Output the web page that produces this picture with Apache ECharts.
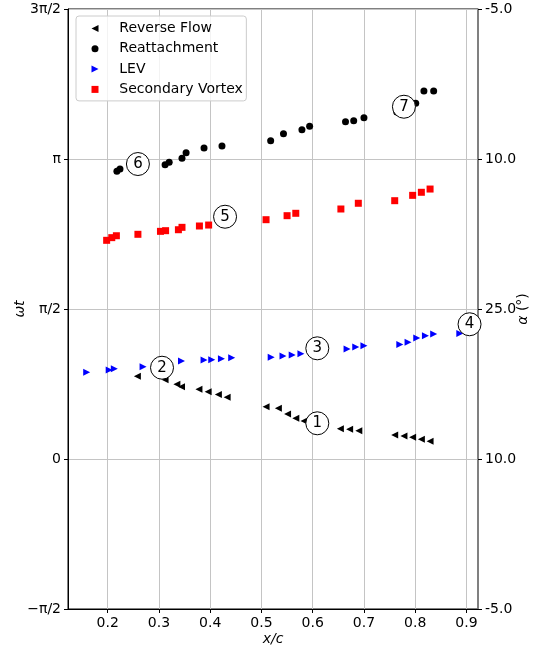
<!DOCTYPE html>
<html>
<head>
<meta charset="utf-8">
<script src="https://cdn.jsdelivr.net/npm/echarts@6/dist/echarts.min.js"></script>
<style>
  html, body { margin: 0; padding: 0; background: #fff; }
  #chart { width: 534px; height: 652px; }
</style>
</head>
<body>
<div id="chart"></div>
<script>
const PI = Math.PI;

// Chordwise position x/c and phase ωt (rad) of each flow feature
const reverseFlowX = [0.258, 0.312, 0.335, 0.344, 0.378, 0.396, 0.416, 0.433, 0.509, 0.533, 0.551, 0.567, 0.583, 0.654, 0.672, 0.690, 0.760, 0.778, 0.795, 0.812, 0.829];
const reverseFlowPhase = [0.866, 0.830, 0.782, 0.757, 0.731, 0.704, 0.675, 0.646, 0.548, 0.531, 0.471, 0.426, 0.398, 0.317, 0.311, 0.296, 0.251, 0.241, 0.227, 0.206, 0.185];

const reattachX = [0.218, 0.224, 0.312, 0.320, 0.345, 0.353, 0.388, 0.423, 0.518, 0.543, 0.579, 0.594, 0.664, 0.680, 0.700, 0.764, 0.801, 0.817, 0.836];
const reattachPhase = [3.013, 3.037, 3.082, 3.107, 3.149, 3.208, 3.257, 3.278, 3.333, 3.407, 3.448, 3.484, 3.532, 3.543, 3.574, 3.634, 3.725, 3.854, 3.854];

const levX = [0.159, 0.203, 0.213, 0.269, 0.344, 0.388, 0.403, 0.422, 0.442, 0.519, 0.542, 0.560, 0.577, 0.667, 0.684, 0.700, 0.770, 0.786, 0.803, 0.820, 0.836, 0.887];
const levPhase = [0.908, 0.932, 0.946, 0.967, 1.026, 1.037, 1.040, 1.050, 1.061, 1.065, 1.079, 1.089, 1.103, 1.152, 1.173, 1.187, 1.199, 1.222, 1.267, 1.290, 1.309, 1.314];

const secondaryX = [0.198, 0.208, 0.217, 0.259, 0.303, 0.313, 0.338, 0.345, 0.379, 0.397, 0.509, 0.550, 0.567, 0.655, 0.689, 0.760, 0.795, 0.812, 0.829];
const secondaryPhase = [2.290, 2.318, 2.338, 2.353, 2.384, 2.391, 2.401, 2.426, 2.440, 2.450, 2.506, 2.548, 2.573, 2.618, 2.678, 2.705, 2.761, 2.793, 2.827];

// Numbered stage markers
const stageNames = ['1', '2', '3', '4', '5', '6', '7'];
const stageX = [0.609, 0.306, 0.609, 0.906, 0.429, 0.259, 0.778];
const stagePhase = [0.374, 0.956, 1.159, 1.411, 2.537, 3.089, 3.689];

// Axis ticks
const xTicks = [0.2, 0.3, 0.4, 0.5, 0.6, 0.7, 0.8, 0.9];
const phaseTicks = [-PI / 2, 0, PI / 2, PI, 3 * PI / 2];
const phaseTickLabels = ['\u2212\u03c0/2', '0', '\u03c0/2', '\u03c0', '3\u03c0/2'];
const alphaTickLabels = ['-5.0', '10.0', '25.0', '10.0', '-5.0'];

const FONT = 'DejaVu Sans';
const pairs = (xs, ys) => xs.map((x, i) => [x, ys[i]]);
const tickIndex = v => Math.round((v + PI / 2) / (PI / 2));

// Marker shapes
const TRI_LEFT = 'path://M0,5 L10,0 L10,10 Z';
const TRI_RIGHT = 'path://M10,5 L0,0 L0,10 Z';
const SQUARE = 'path://M0,0 L10,0 L10,10 L0,10 Z';

const chart = echarts.init(document.getElementById('chart'), null, { renderer: 'canvas' });

const yAxisCommon = {
  type: 'value',
  min: -PI / 2,
  max: 3 * PI / 2,
  axisTick: { show: true, customValues: phaseTicks, length: 4, lineStyle: { color: '#000', width: 1 } },
};

chart.setOption({
  animation: false,
  backgroundColor: '#fff',
  textStyle: { fontFamily: FONT },
  grid: {
    left: 68, right: 56, top: 9, bottom: 43,
    containLabel: false, outerBoundsMode: 'none',
    show: true, borderColor: '#000', borderWidth: 1, backgroundColor: 'transparent'
  },
  legend: {
    orient: 'vertical',
    left: 76,
    top: 16,
    data: ['Reverse Flow', 'Reattachment', 'LEV', 'Secondary Vortex'],
    itemWidth: 7,
    itemHeight: 7,
    itemGap: 6.3,
    padding: [5.5, 3.5, 4.5, 15.5],
    backgroundColor: 'rgba(255,255,255,0.8)',
    borderColor: '#cccccc',
    borderWidth: 1,
    borderRadius: 3,
    textStyle: { fontFamily: FONT, fontSize: 14, color: '#000', padding: [0, 0, 0, 15.8] },
    z: 20
  },
  xAxis: {
    type: 'value',
    min: 0.1226,
    max: 0.9225,
    name: 'x/c',
    nameLocation: 'middle',
    nameGap: 23,
    nameMoveOverlap: false,
    nameTextStyle: { fontFamily: FONT, fontSize: 14, fontStyle: 'italic', color: '#000' },
    axisLine: { show: true, onZero: false, lineStyle: { color: '#000', width: 1 } },
    axisTick: { show: true, customValues: xTicks, length: 4, lineStyle: { color: '#000', width: 1 } },
    axisLabel: {
      customValues: xTicks,
      margin: 7,
      fontFamily: FONT, fontSize: 14, color: '#000',
      formatter: v => v.toFixed(1)
    },
    splitLine: { show: true, lineStyle: { color: '#c4c4c4', width: 1 } }
  },
  yAxis: [
    Object.assign({}, yAxisCommon, {
      position: 'left',
      name: '\u03c9t',
      nameLocation: 'middle',
      nameRotate: 90,
      nameGap: 41,
      nameMoveOverlap: false,
      nameTextStyle: { fontFamily: FONT, fontSize: 14, fontStyle: 'italic', color: '#000' },
      axisLine: { show: true, onZero: false, lineStyle: { color: '#000', width: 1 } },
      axisLabel: {
        customValues: phaseTicks,
        margin: 7,
        fontFamily: FONT, fontSize: 14, color: '#000',
        formatter: v => phaseTickLabels[tickIndex(v)]
      },
      splitLine: { show: true, lineStyle: { color: '#c4c4c4', width: 1 } }
    }),
    Object.assign({}, yAxisCommon, {
      position: 'right',
      name: '{a|\u03b1} (\u00b0)',
      nameLocation: 'middle',
      nameRotate: 90,
      nameGap: 38,
      nameMoveOverlap: false,
      nameTextStyle: {
        fontFamily: FONT, fontSize: 14, color: '#000',
        rich: { a: { fontFamily: FONT, fontSize: 14, fontStyle: 'italic', color: '#000' } }
      },
      axisLine: { show: true, onZero: false, lineStyle: { color: '#808080', width: 1.5 } },
      axisLabel: {
        customValues: phaseTicks,
        margin: 7,
        fontFamily: FONT, fontSize: 14, color: '#000',
        formatter: v => alphaTickLabels[tickIndex(v)]
      },
      splitLine: { show: false }
    })
  ],
  series: [
    {
      name: 'Reverse Flow', type: 'scatter', yAxisIndex: 0,
      symbol: TRI_LEFT, symbolSize: 7,
      itemStyle: { color: '#000000', opacity: 1 },
      data: pairs(reverseFlowX, reverseFlowPhase), z: 3
    },
    {
      name: 'Reattachment', type: 'scatter', yAxisIndex: 0,
      symbol: 'circle', symbolSize: 7,
      itemStyle: { color: '#000000', opacity: 1 },
      data: pairs(reattachX, reattachPhase), z: 3
    },
    {
      name: 'LEV', type: 'scatter', yAxisIndex: 0,
      symbol: TRI_RIGHT, symbolSize: 7,
      itemStyle: { color: '#0000ff', opacity: 1 },
      data: pairs(levX, levPhase), z: 3
    },
    {
      name: 'Secondary Vortex', type: 'scatter', yAxisIndex: 0,
      symbol: SQUARE, symbolSize: 7,
      itemStyle: { color: '#ff0000', opacity: 1 },
      data: pairs(secondaryX, secondaryPhase), z: 3
    },
    {
      name: 'stages', type: 'scatter', yAxisIndex: 0,
      symbol: 'circle', symbolSize: 23, clip: false,
      itemStyle: { color: '#ffffff', borderColor: '#000000', borderWidth: 1, opacity: 1 },
      label: {
        show: true, position: 'inside',
        fontFamily: FONT, fontSize: 15, color: '#000',
        formatter: p => stageNames[p.dataIndex]
      },
      emphasis: { disabled: true },
      data: pairs(stageX, stagePhase), z: 5
    }
  ]
});
</script>
</body>
</html>
